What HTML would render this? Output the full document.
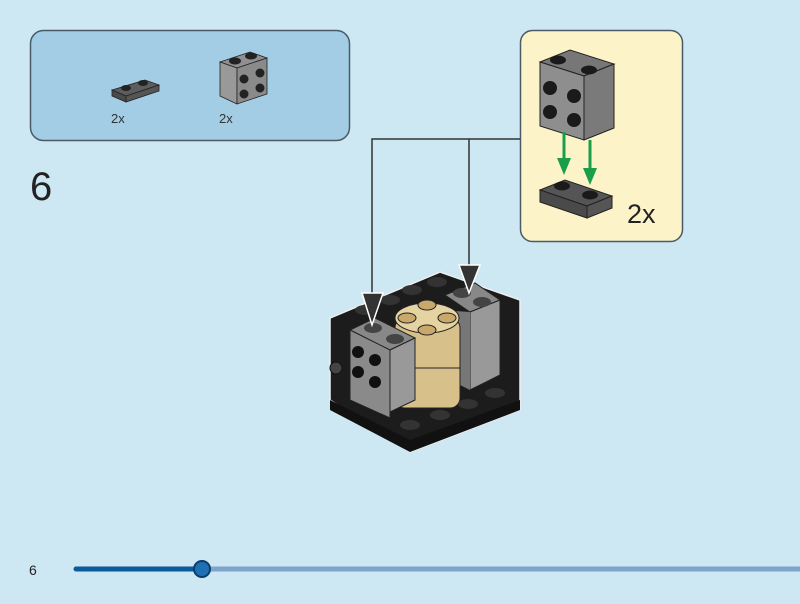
<!DOCTYPE html>
<html><head><style>
html,body{margin:0;padding:0;background:#cde8f2;}
svg{display:block;}
text{font-family:"Liberation Sans",sans-serif;}
</style></head><body>
<svg width="800" height="604" viewBox="0 0 800 604" xmlns="http://www.w3.org/2000/svg">
<rect width="800" height="604" fill="#cde8f2"/>
<!-- parts box -->
<rect x="30.5" y="30.5" width="319" height="110" rx="13" fill="#a3cde4" stroke="#4a5a66" stroke-width="1.5"/>
<!-- 1x2 plate -->
<polygon points="112,90 145,80 159,85 126,96" fill="#5d5d5d" stroke="#222" stroke-width="0.8"/>
<polygon points="112,90 126,96 126,102 112,96" fill="#4a4a4a" stroke="#222" stroke-width="0.8"/>
<polygon points="126,96 159,85 159,91 126,102" fill="#555" stroke="#222" stroke-width="0.8"/>
<ellipse cx="126" cy="88" rx="5" ry="3" fill="#222"/><ellipse cx="143" cy="83" rx="5" ry="3" fill="#222"/>
<text x="111" y="123" font-size="13" fill="#333">2x</text>
<!-- 1x2 brick with studs on side -->
<polygon points="220,62 250,52 267,58 237,68" fill="#8f8f8f" stroke="#222" stroke-width="0.8"/>
<polygon points="220,62 237,68 237,104 220,96" fill="#999" stroke="#222" stroke-width="0.8"/>
<polygon points="237,68 267,58 267,94 237,104" fill="#8a8a8a" stroke="#222" stroke-width="0.8"/>
<ellipse cx="235" cy="61" rx="6" ry="3.5" fill="#222"/><ellipse cx="251" cy="56" rx="6" ry="3.5" fill="#222"/>
<circle cx="244" cy="79" r="4.5" fill="#222"/><circle cx="260" cy="73" r="4.5" fill="#222"/>
<circle cx="244" cy="94" r="4.5" fill="#222"/><circle cx="260" cy="88" r="4.5" fill="#222"/>
<text x="219" y="123" font-size="13" fill="#333">2x</text>
<!-- step number -->
<text x="30" y="200" font-size="40" fill="#222">6</text>
<!-- callout -->
<rect x="520.5" y="30.5" width="162" height="211" rx="12" fill="#fdf3c8" stroke="#4a5a66" stroke-width="1.5"/>
<!-- callout brick -->
<polygon points="540,62 570,50 614,64 584,76" fill="#777" stroke="#222" stroke-width="1"/>
<polygon points="540,62 584,76 584,140 540,126" fill="#8e8e8e" stroke="#222" stroke-width="1"/>
<polygon points="584,76 614,64 614,128 584,140" fill="#7a7a7a" stroke="#222" stroke-width="1"/>
<ellipse cx="558" cy="60" rx="8" ry="4.5" fill="#1a1a1a"/><ellipse cx="589" cy="70" rx="8" ry="4.5" fill="#1a1a1a"/>
<circle cx="550" cy="88" r="7" fill="#1a1a1a"/><circle cx="574" cy="96" r="7" fill="#1a1a1a"/>
<circle cx="550" cy="112" r="7" fill="#1a1a1a"/><circle cx="574" cy="120" r="7" fill="#1a1a1a"/>
<!-- green arrows -->
<line x1="564" y1="132" x2="564" y2="162" stroke="#1a9e4a" stroke-width="3"/>
<polygon points="557,158 571,158 564,175" fill="#1a9e4a"/>
<line x1="590" y1="140" x2="590" y2="172" stroke="#1a9e4a" stroke-width="3"/>
<polygon points="583,168 597,168 590,185" fill="#1a9e4a"/>
<!-- callout plate -->
<polygon points="540,190 565,180 612,196 587,206" fill="#555" stroke="#222" stroke-width="1"/>
<polygon points="540,190 587,206 587,218 540,202" fill="#4a4a4a" stroke="#222" stroke-width="1"/>
<polygon points="587,206 612,196 612,208 587,218" fill="#555" stroke="#222" stroke-width="1"/>
<ellipse cx="562" cy="186" rx="8" ry="4.5" fill="#1a1a1a"/><ellipse cx="590" cy="195" rx="8" ry="4.5" fill="#1a1a1a"/>
<text x="627" y="223" font-size="27" fill="#222">2x</text>
<!-- connectors -->
<polyline points="520,139 372,139 372,300" fill="none" stroke="#333" stroke-width="1.5"/>
<line x1="469" y1="139" x2="469" y2="268" stroke="#333" stroke-width="1.5"/>
<!-- model base -->
<polygon points="330,318 440,272 520,300 520,410 410,452 330,400" fill="#1c1c1c" stroke="#eee" stroke-width="1.5"/>
<polygon points="330,400 410,440 520,400 520,410 410,452 330,410" fill="#111"/>
<!-- top studs back -->
<ellipse cx="412" cy="290" rx="10" ry="5" fill="#333"/><ellipse cx="437" cy="282" rx="10" ry="5" fill="#333"/>
<ellipse cx="390" cy="300" rx="10" ry="5" fill="#333"/><ellipse cx="365" cy="310" rx="10" ry="5" fill="#333"/>
<!-- right gray brick -->
<polygon points="445,295 475,283 500,300 470,312" fill="#888" stroke="#222"/>
<polygon points="470,312 500,300 500,375 470,390" fill="#999" stroke="#222"/>
<polygon points="440,310 470,312 470,390 440,375" fill="#777"/>
<ellipse cx="462" cy="293" rx="9" ry="5" fill="#444"/><ellipse cx="482" cy="302" rx="9" ry="5" fill="#444"/>
<!-- tan round -->
<rect x="395" y="318" width="65" height="90" rx="10" fill="#d8c08a" stroke="#222"/>
<ellipse cx="427" cy="318" rx="32" ry="15" fill="#e6d3a2" stroke="#222"/>
<line x1="395" y1="368" x2="460" y2="368" stroke="#222"/>
<ellipse cx="427" cy="305" rx="9" ry="5" fill="#c9a86c" stroke="#222"/><ellipse cx="447" cy="318" rx="9" ry="5" fill="#c9a86c" stroke="#222"/>
<ellipse cx="407" cy="318" rx="9" ry="5" fill="#c9a86c" stroke="#222"/><ellipse cx="427" cy="330" rx="9" ry="5" fill="#c9a86c" stroke="#222"/>
<!-- left gray brick -->
<polygon points="350,330 375,318 415,338 390,350" fill="#888" stroke="#222"/>
<polygon points="390,350 415,338 415,400 390,412" fill="#999" stroke="#222"/>
<polygon points="350,330 390,350 390,418 350,400" fill="#8a8a8a" stroke="#222"/>
<ellipse cx="373" cy="328" rx="9" ry="5" fill="#444"/><ellipse cx="395" cy="339" rx="9" ry="5" fill="#444"/>
<circle cx="358" cy="352" r="6" fill="#111"/><circle cx="375" cy="360" r="6" fill="#111"/>
<circle cx="358" cy="372" r="6" fill="#111"/><circle cx="375" cy="382" r="6" fill="#111"/>
<circle cx="336" cy="368" r="6" fill="#444" stroke="#111"/>
<!-- front studs -->
<ellipse cx="410" cy="425" rx="10" ry="5" fill="#333"/><ellipse cx="440" cy="415" rx="10" ry="5" fill="#333"/>
<ellipse cx="468" cy="404" rx="10" ry="5" fill="#333"/><ellipse cx="495" cy="393" rx="10" ry="5" fill="#333"/>
<!-- arrowheads -->
<polygon points="362,293 383,293 372,325" fill="#333" stroke="#fff" stroke-width="1.5"/>
<polygon points="459,265 480,265 469,293" fill="#333" stroke="#fff" stroke-width="1.5"/>
<!-- footer -->
<text x="29" y="575" font-size="14" fill="#222">6</text>
<line x1="202" y1="569" x2="800" y2="569" stroke="#7fa3c9" stroke-width="5"/>
<line x1="76" y1="569" x2="202" y2="569" stroke="#0b5a9a" stroke-width="5" stroke-linecap="round"/>
<circle cx="202" cy="569" r="8" fill="#1f6fb5" stroke="#0b3d6b" stroke-width="2"/>
</svg>
</body></html>
